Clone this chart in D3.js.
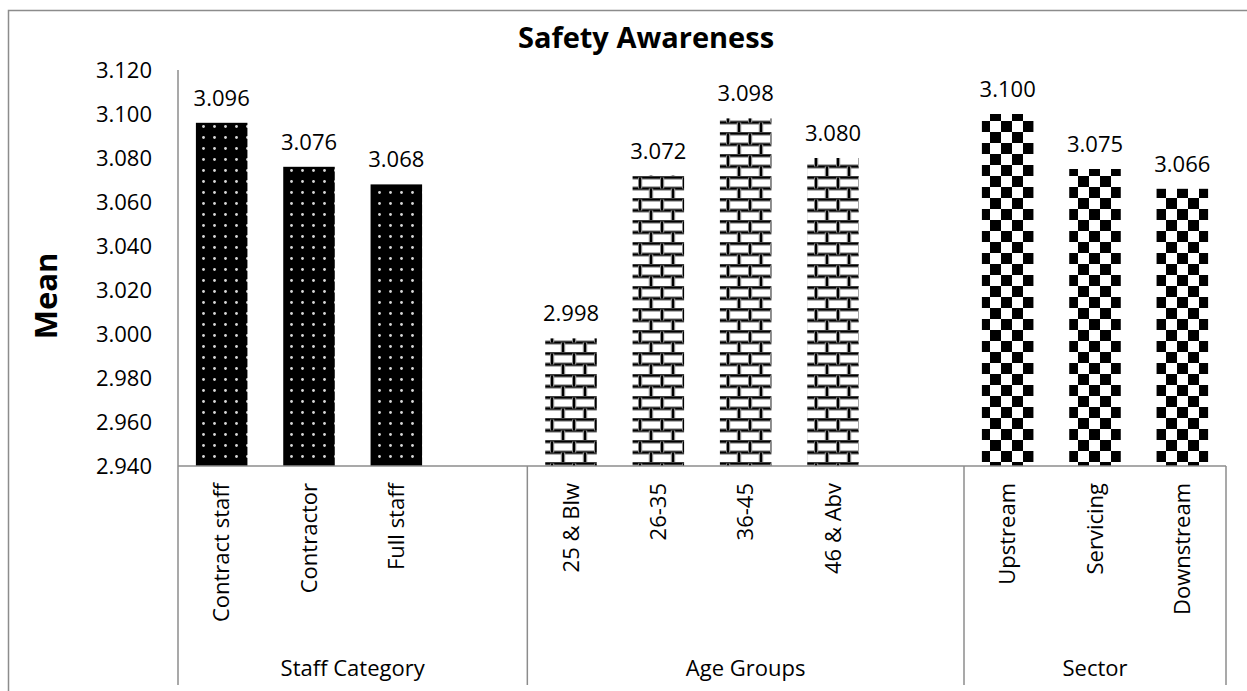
<!DOCTYPE html>
<html>
<head>
<meta charset="utf-8">
<script src="https://cdn.jsdelivr.net/npm/d3@7"></script>
<style>
  body { margin: 0; background: #fff; }
  text { font-family: "Open Sans", sans-serif; fill: #000; }
</style>
</head>
<body>
<div id="chart"></div>
<script>
// data (blank slots are the gaps between groups)
var categories = ["Contract staff", "Contractor", "Full staff", "",
                  "25 & Blw", "26-35", "36-45", "46 & Abv", "",
                  "Upstream", "Servicing", "Downstream"];
var means = [3.096, 3.076, 3.068, null,
             2.998, 3.072, 3.098, 3.080, null,
             3.100, 3.075, 3.066];
var groups = ["Staff Category", "Age Groups", "Sector"];
var groupSizes = [4, 5, 3];
var yTicks = [2.94, 2.96, 2.98, 3.00, 3.02, 3.04, 3.06, 3.08, 3.10, 3.12];

var width = 1247,
    height = 691;

var svg = d3.select("#chart")
      .append("svg")
      .attr("width", width)
      .attr("height", height);

// patterns, one per group
var defs = svg.append("defs");

var dots = defs.append("pattern")
    .attr("id", "dots")
    .attr("patternUnits", "userSpaceOnUse")
    .attr("width", 11).attr("height", 11);
dots.append("rect").attr("width", 11).attr("height", 11).attr("fill", "#000");
dots.append("circle").attr("cx", 5.5).attr("cy", 5.5).attr("r", 1.4).attr("fill", "#d8d8d8");

var brick = defs.append("pattern")
    .attr("id", "brick")
    .attr("patternUnits", "userSpaceOnUse")
    .attr("width", 22).attr("height", 22);
brick.append("rect").attr("width", 22).attr("height", 22).attr("fill", "#fff");
[[0, 1.5, 22, 1.5], [0, 12.5, 22, 12.5], [2, 1.5, 2, 12.5], [13, 12.5, 13, 23.5]].forEach(function(l){
  brick.append("line")
    .attr("x1", l[0]).attr("y1", l[1]).attr("x2", l[2]).attr("y2", l[3])
    .attr("stroke", "#9a9a9a").attr("stroke-width", 4.5);
  brick.append("line")
    .attr("x1", l[0]).attr("y1", l[1]).attr("x2", l[2]).attr("y2", l[3])
    .attr("stroke", "#000").attr("stroke-width", 2.2);
});

var checker = defs.append("pattern")
    .attr("id", "checker")
    .attr("patternUnits", "userSpaceOnUse")
    .attr("width", 22).attr("height", 22);
checker.append("rect").attr("width", 22).attr("height", 22).attr("fill", "#fff");
checker.append("rect").attr("width", 11).attr("height", 11).attr("fill", "#000");
checker.append("rect").attr("x", 11).attr("y", 11).attr("width", 11).attr("height", 11).attr("fill", "#000");

var patternOf = {"Staff Category": "url(#dots)", "Age Groups": "url(#brick)", "Sector": "url(#checker)"};

// which group each slot belongs to
var slotGroup = [];
groups.forEach(function(g, i){
  for (var k = 0; k < groupSizes[i]; k++) slotGroup.push(g);
});

// outer chart border
svg.append("rect")
  .attr("x", 8.5).attr("y", 10.5)
  .attr("width", width + 20).attr("height", height + 20)
  .attr("fill", "none")
  .attr("stroke", "#8c8c8c")
  .attr("stroke-width", 1.5);

// scales
var x = d3.scaleBand()
    .domain(d3.range(categories.length))
    .range([178, 1226])
    .paddingInner(0.41)
    .paddingOuter(0.205);

var y = d3.scaleLinear()
    .domain([2.94, 3.12])
    .range([466, 70]);

// y axis
var yAxis = svg.append("g")
    .attr("transform", "translate(178,0)")
    .call(d3.axisLeft(y).tickValues(yTicks).tickSize(0).tickPadding(26).tickFormat(d3.format(".3f")));
yAxis.select(".domain").remove();
yAxis.selectAll("text")
    .style("font-family", "'Open Sans', sans-serif")
    .style("font-size", "22px")
    .attr("fill", "#000");

// bars
var data = categories.map(function(c, i){ return {name: c, value: means[i], group: slotGroup[i], i: i}; })
    .filter(function(d){ return d.value !== null; });

svg.selectAll(".bar")
  .data(data)
  .enter().append("rect")
  .attr("class", "bar")
  .attr("x", function(d){ return x(d.i); })
  .attr("width", x.bandwidth())
  .attr("y", function(d){ return y(d.value); })
  .attr("height", function(d){ return y(2.94) - y(d.value); })
  .attr("fill", function(d){ return patternOf[d.group]; });

// value labels
svg.selectAll(".val")
  .data(data)
  .enter().append("text")
  .attr("class", "val")
  .attr("x", function(d){ return x(d.i) + x.bandwidth() / 2; })
  .attr("y", function(d){ return y(d.value) - 17; })
  .attr("text-anchor", "middle")
  .style("font-size", "22px")
  .text(function(d){ return d3.format(".3f")(d.value); });

// axis lines
var step = x.step();
var x0 = x.range()[0];
svg.append("line")
  .attr("x1", x0).attr("x2", x0)
  .attr("y1", y(3.12)).attr("y2", y(2.94))
  .attr("stroke", "#8c8c8c").attr("stroke-width", 1.5);
svg.append("line")
  .attr("x1", x0).attr("x2", x0 + step * categories.length)
  .attr("y1", y(2.94)).attr("y2", y(2.94))
  .attr("stroke", "#8c8c8c").attr("stroke-width", 1.5);

// group separators and group labels
var start = 0;
var bounds = [0];
groups.forEach(function(g, i){
  var end = start + groupSizes[i];
  bounds.push(end);
  svg.append("text")
    .attr("x", x0 + step * (start + end) / 2)
    .attr("y", 676)
    .attr("text-anchor", "middle")
    .style("font-size", "22px")
    .text(g);
  start = end;
});
svg.selectAll(".sep")
  .data(bounds)
  .enter().append("line")
  .attr("class", "sep")
  .attr("x1", function(d){ return x0 + step * d; })
  .attr("x2", function(d){ return x0 + step * d; })
  .attr("y1", y(2.94))
  .attr("y2", 685)
  .attr("stroke", "#8c8c8c")
  .attr("stroke-width", 1.5);

// category labels, rotated
svg.selectAll(".cat")
  .data(data)
  .enter().append("text")
  .attr("class", "cat")
  .attr("transform", function(d){
    return "translate(" + (x(d.i) + x.bandwidth() / 2) + ",483) rotate(-90)";
  })
  .attr("text-anchor", "end")
  .attr("dy", "0.35em")
  .style("font-size", "22px")
  .text(function(d){ return d.name; });

// title
svg.append("text")
  .attr("x", 646)
  .attr("y", 48)
  .attr("text-anchor", "middle")
  .style("font-size", "29px")
  .style("font-weight", "bold")
  .text("Safety Awareness");

// y axis title
svg.append("text")
  .attr("transform", "translate(57,296) rotate(-90)")
  .attr("text-anchor", "middle")
  .style("font-size", "31px")
  .style("font-weight", "bold")
  .text("Mean");
</script>
</body>
</html>
